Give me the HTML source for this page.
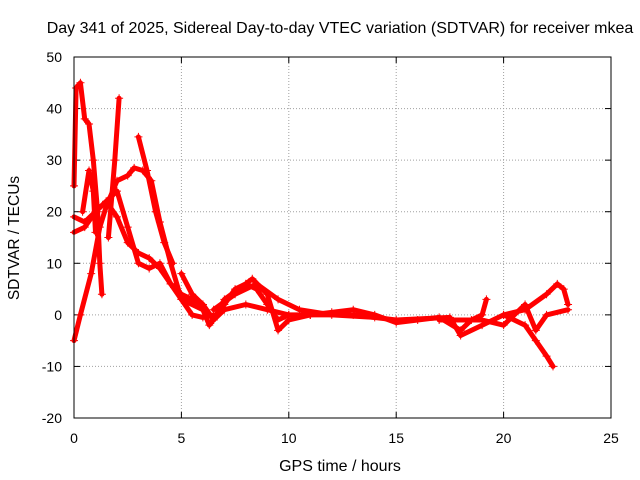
<!DOCTYPE html>
<html><head><meta charset="utf-8"><style>
body{margin:0;background:#fff}
svg{display:block;font-family:"Liberation Sans",sans-serif}
</style></head><body>
<svg id="chart" width="640" height="480">
<text x="340" y="33" font-size="16" text-anchor="middle">Day 341 of 2025, Sidereal Day-to-day VTEC variation (SDTVAR) for receiver mkea</text>
<text x="0" y="0" font-size="15.5" text-anchor="middle" transform="translate(19,238) rotate(-90)">SDTVAR / TECUs</text>
<text x="340" y="471" font-size="16" text-anchor="middle">GPS time / hours</text>
<g id="grid"></g>
<g id="ticks"></g>
<g id="series"></g>
<rect x="74" y="57" width="537" height="361" fill="none" stroke="#000"/>
</svg>
<script>
const xTicks=[0,5,10,15,20,25];
const yTicks=[-20,-10,0,10,20,30,40,50];
const trackA=[[0,-5],[0.3,0],[0.8,8],[1.2,17],[1.5,21],[2,26],[2.5,27],[2.8,28.5],[3.2,28],[3.6,26],[4,18],[4.5,10],[5,3],[5.5,0],[6,-0.5],[6.5,0]];
const trackB=[[0,16],[0.5,17],[1,20],[1.5,22],[2,19],[2.5,14],[3,12],[3.5,11],[4,9],[4.5,6],[5,4],[5.5,3],[6,2],[6.5,-1],[7,1],[8,2],[9,1],[10,0],[11,0]];
const trackC=[[0,19],[0.5,18],[1,20],[1.5,22],[2,24],[2.5,17],[3,10],[3.5,9],[4,10],[4.5,6],[5,3],[6,1],[6.3,-2],[7,2],[7.5,5],[8,6],[8.5,5],[9,2],[9.5,-1],[10,0]];
const trackD=[[0,25],[0.1,44],[0.3,45],[0.5,38],[0.7,37],[0.9,30],[1.1,20],[1.2,10],[1.3,4]];
const trackE=[[1.6,15],[1.9,30],[2.1,42]];
const trackF=[[0.4,20],[0.7,28],[0.9,24],[1,16]];
const trackG=[[3,34.5],[3.4,28],[3.8,20],[4.2,14],[4.6,10]];
const trackH=[[5,8],[5.5,4],[6,2],[6.5,-1],[7,3],[8,6],[8.3,7],[9,4],[9.5,-3],[10,-1],[11,0],[12,0.5],[13,1],[14,0],[15,-1.5],[16,-1],[17,-0.5],[18,-3],[18.5,-1],[19,0],[19.2,3]];
const trackI=[[11,0],[13,0],[15,-1],[17.5,-0.5],[18,-4],[19,-2],[20,0],[21,-2],[21.5,-5],[22,-8],[22.3,-10]];
const trackJ=[[20,0],[21,1],[22,4],[22.5,6],[22.8,5],[23,2]];
const trackK=[[17,-1],[19,-1],[20,-2],[21,2],[21.5,-3],[22,0],[23,1]];
const trackL=[[6.5,1],[7.5,4],[8.5,6],[9.5,3],[10.5,1],[12,0],[14,-0.5]];
const tracks=[trackA,trackB,trackC,trackD,trackE,trackF,trackG,trackH,trackI,trackJ,trackK,trackL];
const X=v=>74+v*537/25;
const Y=v=>418-(v+20)*361/70;
const NS="http://www.w3.org/2000/svg";
const grid=document.getElementById('grid'),ticks=document.getElementById('ticks'),ser=document.getElementById('series');
function mk(tag,at,par){const e=document.createElementNS(NS,tag);for(const k in at)e.setAttribute(k,at[k]);par.appendChild(e);return e;}
xTicks.forEach(t=>{
 if(t>0&&t<25){const g=mk('line',{x1:X(t),x2:X(t),y1:57,y2:418,stroke:'#a0a0a0','stroke-dasharray':'1,2'},grid);
 
 }
 mk('line',{x1:X(t),x2:X(t),y1:418,y2:412,stroke:'#000'},ticks);
 mk('line',{x1:X(t),x2:X(t),y1:57,y2:63,stroke:'#000'},ticks);
 const l=mk('text',{x:X(t),y:443,'font-size':14,'text-anchor':'middle'},ticks);l.textContent=t;
 
 
});
yTicks.forEach(t=>{
 if(t>-20&&t<50){const g=mk('line',{x1:74,x2:611,y1:Y(t),y2:Y(t),stroke:'#a0a0a0','stroke-dasharray':'1,2'},grid);
 
 }
 mk('line',{x1:74,x2:80,y1:Y(t),y2:Y(t),stroke:'#000'},ticks);
 mk('line',{x1:611,x2:605,y1:Y(t),y2:Y(t),stroke:'#000'},ticks);
 const l=mk('text',{x:62,y:Y(t)+5,'font-size':14,'text-anchor':'end'},ticks);l.textContent=t;
 
 
});
tracks.forEach(tr=>{
 const d=tr.map((p,i)=>(i?'L':'M')+X(p[0]).toFixed(1)+','+Y(p[1]).toFixed(1)).join('');
 const p=mk('path',{d:d,fill:'none',stroke:'#f00','stroke-width':5,'stroke-linejoin':'round','stroke-linecap':'round'},ser);
 
 
 tr.forEach(pt=>{
  const m=mk('path',{d:`M${X(pt[0])-4},${Y(pt[1])}h8M${X(pt[0])},${Y(pt[1])-4}v8`,stroke:'#f00','stroke-width':1},ser);
  
  
 });
});
</script>
</body></html>
